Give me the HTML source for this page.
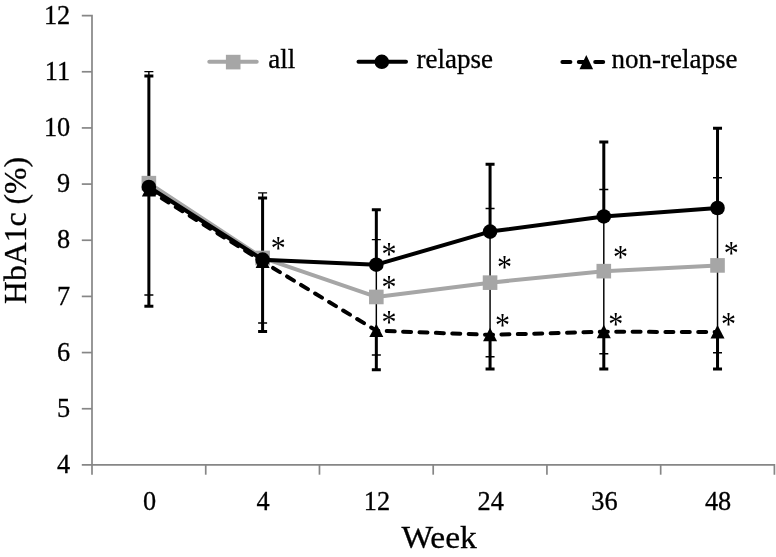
<!DOCTYPE html>
<html lang="en"><head><meta charset="utf-8"><title>HbA1c chart</title>
<style>html,body{margin:0;padding:0;background:#fff}body{width:776px;height:557px;overflow:hidden}</style></head>
<body>
<svg width="776" height="557" viewBox="0 0 776 557" style="display:block">
<rect width="776" height="557" fill="#fff"/>
<g stroke="#868686" stroke-width="1.7" fill="none">
<path d="M81.8 15.6 H92.0 V474.7"/>
<path d="M81.8 464.9 H774.4 V474.7"/>
<path d="M81.8 408.74 H92.0"/>
<path d="M81.8 352.57 H92.0"/>
<path d="M81.8 296.41 H92.0"/>
<path d="M81.8 240.25 H92.0"/>
<path d="M81.8 184.09 H92.0"/>
<path d="M81.8 127.93 H92.0"/>
<path d="M81.8 71.76 H92.0"/>
<path d="M205.73 464.9 V474.7"/>
<path d="M319.47 464.9 V474.7"/>
<path d="M433.20 464.9 V474.7"/>
<path d="M546.93 464.9 V474.7"/>
<path d="M660.67 464.9 V474.7"/>
</g>
<g font-family="'Liberation Serif', serif" font-size="26.3" fill="#000" stroke="#000" stroke-width="0.3">
<text x="70.2" y="473.00" text-anchor="end">4</text>
<text x="70.2" y="416.84" text-anchor="end">5</text>
<text x="70.2" y="360.68" text-anchor="end">6</text>
<text x="70.2" y="304.51" text-anchor="end">7</text>
<text x="70.2" y="248.35" text-anchor="end">8</text>
<text x="70.2" y="192.19" text-anchor="end">9</text>
<text x="70.2" y="136.03" text-anchor="end">10</text>
<text x="70.2" y="79.86" text-anchor="end">11</text>
<text x="70.2" y="23.70" text-anchor="end">12</text>
<text x="149.47" y="510.1" text-anchor="middle">0</text>
<text x="263.20" y="510.1" text-anchor="middle">4</text>
<text x="376.93" y="510.1" text-anchor="middle">12</text>
<text x="490.67" y="510.1" text-anchor="middle">24</text>
<text x="604.40" y="510.1" text-anchor="middle">36</text>
<text x="718.13" y="510.1" text-anchor="middle">48</text>
</g>
<text x="401.4" y="548" textLength="75.4" lengthAdjust="spacingAndGlyphs" font-family="'Liberation Serif', serif" font-size="32" fill="#000" stroke="#000" stroke-width="0.3">Week</text>
<text transform="translate(26.3 304) rotate(-90)" textLength="147" lengthAdjust="spacingAndGlyphs" font-family="'Liberation Serif', serif" font-size="32.4" fill="#000" stroke="#000" stroke-width="0.3">HbA1c (%)</text>
<g stroke="#000" stroke-width="1.45" fill="none">
<path d="M148.87 71.62 V295.00 M144.37 71.62 h9 M144.37 295.00 h9"/>
<path d="M262.60 192.86 V323.07 M258.10 192.86 h9 M258.10 323.07 h9"/>
<path d="M376.33 239.61 V355.06 M371.83 239.61 h9 M371.83 355.06 h9"/>
<path d="M490.07 208.57 V356.74 M485.57 208.57 h9 M485.57 356.74 h9"/>
<path d="M603.80 189.49 V353.65 M599.30 189.49 h9 M599.30 353.65 h9"/>
<path d="M717.53 177.70 V352.81 M713.03 177.70 h9 M713.03 352.81 h9"/>
</g>
<g stroke="#000" stroke-width="3" fill="none">
<path d="M148.87 76.12 V306.23 M144.37 76.12 h9"/>
<path d="M144.37 306.23 h9"/>
<path d="M262.60 197.91 V331.48 M258.10 197.91 h9"/>
<path d="M258.10 331.48 h9"/>
<path d="M376.33 209.69 V264.70 M371.83 209.69 h9"/>
<path d="M376.33 330.64 V369.65 M371.83 369.65 h9"/>
<path d="M490.07 164.23 V231.58 M485.57 164.23 h9"/>
<path d="M490.07 334.85 V369.09 M485.57 369.09 h9"/>
<path d="M603.80 142.06 V216.43 M599.30 142.06 h9"/>
<path d="M603.80 331.76 V369.09 M599.30 369.09 h9"/>
<path d="M717.53 128.31 V208.01 M713.03 128.31 h9"/>
<path d="M717.53 332.04 V369.09 M713.03 369.09 h9"/>
</g>
<polyline points="148.87,183.15 262.60,257.96 376.33,296.97 490.07,282.65 603.80,271.15 717.53,265.42" fill="none" stroke="#a6a6a6" stroke-width="4" stroke-linejoin="round" stroke-linecap="round"/>
<rect x="141.57" y="175.85" width="14.6" height="14.6" fill="#a6a6a6"/>
<rect x="255.30" y="250.66" width="14.6" height="14.6" fill="#a6a6a6"/>
<rect x="369.03" y="289.67" width="14.6" height="14.6" fill="#a6a6a6"/>
<rect x="482.77" y="275.35" width="14.6" height="14.6" fill="#a6a6a6"/>
<rect x="596.50" y="263.85" width="14.6" height="14.6" fill="#a6a6a6"/>
<rect x="710.23" y="258.12" width="14.6" height="14.6" fill="#a6a6a6"/>
<polyline points="148.87,190.05 262.60,261.61 376.33,330.64 490.07,334.85 603.80,331.76 717.53,332.04" fill="none" stroke="#000" stroke-width="4" stroke-dasharray="8 8.4" stroke-dashoffset="1" stroke-linejoin="round" stroke-linecap="round"/>
<path d="M148.87 183.05 L155.87 196.45 H141.87 Z" fill="#000"/>
<path d="M262.60 254.61 L269.60 268.01 H255.60 Z" fill="#000"/>
<path d="M376.33 323.64 L383.33 337.04 H369.33 Z" fill="#000"/>
<path d="M490.07 327.85 L497.07 341.25 H483.07 Z" fill="#000"/>
<path d="M603.80 324.76 L610.80 338.16 H596.80 Z" fill="#000"/>
<path d="M717.53 325.04 L724.53 338.44 H710.53 Z" fill="#000"/>
<polyline points="148.87,186.96 262.60,259.64 376.33,264.70 490.07,231.58 603.80,216.43 717.53,208.01" fill="none" stroke="#000" stroke-width="4" stroke-linejoin="round" stroke-linecap="round"/>
<circle cx="148.87" cy="186.96" r="7.3" fill="#000"/>
<circle cx="262.60" cy="259.64" r="7.3" fill="#000"/>
<circle cx="376.33" cy="264.70" r="7.3" fill="#000"/>
<circle cx="490.07" cy="231.58" r="7.3" fill="#000"/>
<circle cx="603.80" cy="216.43" r="7.3" fill="#000"/>
<circle cx="717.53" cy="208.01" r="7.3" fill="#000"/>
<g font-family="'Liberation Serif', serif" font-size="30" fill="#000" text-anchor="middle">
<text transform="translate(278.2 259.07) scale(1 1.1)">*</text>
<text transform="translate(389 265.07) scale(1 1.1)">*</text>
<text transform="translate(389 297.98) scale(1 1.1)">*</text>
<text transform="translate(389 332.57) scale(1 1.1)">*</text>
<text transform="translate(504.6 277.88) scale(1 1.1)">*</text>
<text transform="translate(502.4 336.07) scale(1 1.1)">*</text>
<text transform="translate(620.6 267.98) scale(1 1.1)">*</text>
<text transform="translate(615.8 334.98) scale(1 1.1)">*</text>
<text transform="translate(731.3 264.18) scale(1 1.1)">*</text>
<text transform="translate(728.6 335.38) scale(1 1.1)">*</text>
</g>
<path d="M209.3 61.8 H256.7" stroke="#a6a6a6" stroke-width="4" stroke-linecap="round"/>
<rect x="225.9" y="54.8" width="14.6" height="14.6" fill="#a6a6a6"/>
<path d="M358.5 61.8 H406" stroke="#000" stroke-width="4" stroke-linecap="round"/>
<circle cx="381.8" cy="61.8" r="7.3" fill="#000"/>
<path d="M562.4 62 H610" stroke="#000" stroke-width="4" stroke-dasharray="8 8.4" stroke-linecap="round"/>
<path d="M586.3 55 L593.1 69.2 H579.5 Z" fill="#000"/>
<g font-family="'Liberation Serif', serif" font-size="27" fill="#000" stroke="#000" stroke-width="0.3">
<text x="268.3" y="68">all</text>
<text x="416.5" y="68">relapse</text>
<text x="611.5" y="68">non-relapse</text>
</g>
</svg>
</body></html>
